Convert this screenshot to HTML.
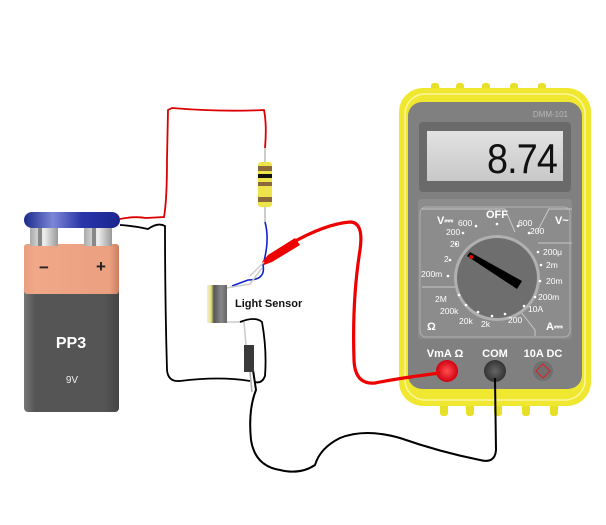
<!DOCTYPE html>
<html><head><meta charset="utf-8"><style>
html,body{margin:0;padding:0;background:#fff;width:606px;height:525px;overflow:hidden}
svg{display:block;font-family:"Liberation Sans",sans-serif}
</style></head><body>
<svg width="606" height="525" viewBox="0 0 606 525">
<defs>
<linearGradient id="cap" x1="0" x2="1"><stop offset="0" stop-color="#1a2a8a"/><stop offset="0.3" stop-color="#7d86d8"/><stop offset="0.6" stop-color="#2a36a8"/><stop offset="1" stop-color="#1a2590"/></linearGradient>
<linearGradient id="gb" x1="0" x2="1"><stop offset="0" stop-color="#777"/><stop offset="0.12" stop-color="#555"/><stop offset="0.85" stop-color="#555"/><stop offset="1" stop-color="#444"/></linearGradient>
<linearGradient id="ob" x1="0" x2="1"><stop offset="0" stop-color="#e8a080"/><stop offset="0.12" stop-color="#f0a888"/><stop offset="0.9" stop-color="#eba080"/><stop offset="1" stop-color="#c88060"/></linearGradient>
<linearGradient id="term" x1="0" x2="1"><stop offset="0" stop-color="#aaa"/><stop offset="0.5" stop-color="#eee"/><stop offset="1" stop-color="#999"/></linearGradient>
<linearGradient id="lcd" x1="0" x2="0" y1="0" y2="1"><stop offset="0" stop-color="#e2e2e2"/><stop offset="1" stop-color="#c8c8c8"/></linearGradient>
<radialGradient id="rt"><stop offset="0" stop-color="#ff5050"/><stop offset="1" stop-color="#d00010"/></radialGradient>
<radialGradient id="bt"><stop offset="0" stop-color="#666"/><stop offset="1" stop-color="#333"/></radialGradient>
<linearGradient id="sens" x1="0" x2="1"><stop offset="0" stop-color="#eee"/><stop offset="0.2" stop-color="#e8e070"/><stop offset="0.35" stop-color="#555"/><stop offset="0.7" stop-color="#888"/><stop offset="1" stop-color="#666"/></linearGradient>
</defs>

<!-- battery -->
<rect x="24" y="244" width="95" height="168" rx="4" fill="url(#gb)"/>
<rect x="24" y="244" width="95" height="50" rx="3" fill="url(#ob)"/>
<rect x="30" y="228" width="28" height="18" fill="url(#term)"/>
<rect x="84" y="228" width="28" height="18" fill="url(#term)"/>
<rect x="38" y="228" width="4" height="18" fill="#888"/><rect x="92" y="228" width="4" height="18" fill="#888"/>
<rect x="24" y="212" width="96" height="16" rx="8" fill="url(#cap)"/>
<text x="44" y="273" font-size="17" font-weight="bold" fill="#222" text-anchor="middle">−</text>
<text x="101" y="272" font-size="17" font-weight="bold" fill="#222" text-anchor="middle">+</text>
<text x="71" y="348" font-size="16" font-weight="bold" fill="#fff" text-anchor="middle">PP3</text>
<text x="72" y="383" font-size="10" fill="#eee" text-anchor="middle">9V</text>

<!-- circuit wires -->
<path d="M120,219 Q135,216 146,218 L164,217 Q167,200 167,160 L168,110 L172,108 Q220,112 264,110 Q267,125 265,148" stroke="#d00" stroke-width="1.8" fill="none"/>
<path d="M120,225 Q135,226 148,229 Q158,222 165,226 Q165,300 167,370 Q168,382 180,381 Q220,376 250,381" stroke="#000" stroke-width="1.8" fill="none"/>
<path d="M265,222 Q270,240 263,265 Q266,280 248,280 L232,286" stroke="#12c" stroke-width="1.6" fill="none"/>
<path d="M265,148 L265,222" stroke="#bbb" stroke-width="1.5"/>
<rect x="258" y="162" width="14" height="45" rx="3" fill="#ece44a"/>
<rect x="258" y="166" width="14" height="5" fill="#8a6a3a"/>
<rect x="258" y="174" width="14" height="4" fill="#111"/>
<rect x="258" y="182" width="14" height="4" fill="#8a6a3a"/>
<rect x="258" y="197" width="14" height="5" fill="#8a6a3a"/>
<!-- light sensor -->
<path d="M226,288 L250,284 L262,268 M226,322 L244,322 L246,345" stroke="#ccc" stroke-width="1.6" fill="none"/>
<path d="M240,322 Q255,316 262,322 Q267,350 265,376 Q262,384 255,382" stroke="#000" stroke-width="1.8" fill="none"/>
<rect x="207" y="285" width="20" height="38" fill="url(#sens)"/>
<text x="235" y="307" font-size="11" font-weight="bold" fill="#111">Light Sensor</text>

<!-- multimeter -->
<g fill="#e8e028">
<rect x="431" y="83" width="8" height="10" rx="3"/><rect x="456" y="83" width="8" height="10" rx="3"/><rect x="482" y="83" width="8" height="10" rx="3"/><rect x="510" y="83" width="8" height="10" rx="3"/><rect x="538" y="83" width="8" height="10" rx="3"/>
<rect x="440" y="400" width="8" height="16" rx="3"/><rect x="466" y="400" width="8" height="16" rx="3"/><rect x="494" y="400" width="8" height="16" rx="3"/><rect x="522" y="400" width="8" height="16" rx="3"/><rect x="550" y="400" width="8" height="16" rx="3"/>
</g>
<rect x="399" y="88" width="192" height="318" rx="24" fill="#f0e830"/>
<rect x="405" y="94" width="180" height="306" rx="20" fill="none" stroke="#fbf6a0" stroke-width="1.5"/>
<rect x="408" y="102" width="174" height="287" rx="14" fill="#808080"/>
<text x="568" y="117" font-size="8" fill="#b8b8b8" text-anchor="end">DMM-101</text>
<rect x="419" y="122" width="152" height="70" rx="4" fill="#6a6a6a"/>
<rect x="427" y="131" width="136" height="50" fill="url(#lcd)"/>
<text x="557" y="173" font-size="42" fill="#111" text-anchor="end" font-family="Liberation Sans,sans-serif" letter-spacing="-1" transform="translate(557,0) scale(0.9,1) translate(-557,0)">8.74</text>
<rect x="418" y="199" width="154" height="140" rx="4" fill="#8c8c8c"/>
<path d="M422,209 L505,209 M505,209 L515,232 M548,209 L572,209 L549,209 L537,232 M422,287 L455,287 M521,312 L535,330 L535,336 M572,243 L538,243" stroke="#c8c8c8" stroke-width="1" fill="none"/>
<rect x="420" y="207" width="150" height="130" rx="6" fill="none" stroke="#bbb" stroke-width="0.8"/>
<circle cx="497" cy="278" r="43" fill="#b0b0b0"/>
<circle cx="497" cy="278" r="40" fill="#6e6e6e"/>
<path d="M467,256 L470,252 L522,281 L517,289 Z" fill="#000"/>
<circle cx="471" cy="257" r="2" fill="#e00"/>
<g font-size="9" fill="#fff" font-weight="bold">
<text x="437" y="224" font-size="11">V⎓</text><text x="555" y="224" font-size="11">V~</text>
<text x="497" y="218" font-size="11" text-anchor="middle">OFF</text>
<text x="427" y="330" font-size="11">Ω</text><text x="546" y="330" font-size="11">A⎓</text>
</g>
<g font-size="8.5" fill="#fff">
<text x="458" y="226">600</text><text x="446" y="235">200</text><text x="450" y="247">20</text><text x="444" y="262">2</text><text x="421" y="277">200m</text>
<text x="435" y="302">2M</text><text x="440" y="314">200k</text><text x="459" y="324">20k</text><text x="481" y="327">2k</text><text x="508" y="323">200</text>
<text x="518" y="226">600</text><text x="530" y="234">200</text><text x="543" y="255">200μ</text><text x="546" y="268">2m</text><text x="546" y="284">20m</text><text x="538" y="300">200m</text><text x="528" y="312">10A</text>
</g>
<g fill="#fff">
<circle cx="497" cy="224" r="1.3"/><circle cx="476" cy="226" r="1.3"/><circle cx="463" cy="233" r="1.3"/><circle cx="456" cy="244" r="1.3"/><circle cx="450" cy="260" r="1.3"/><circle cx="448" cy="276" r="1.3"/>
<circle cx="459" cy="295" r="1.3"/><circle cx="466" cy="305" r="1.3"/><circle cx="478" cy="312" r="1.3"/><circle cx="492" cy="316" r="1.3"/><circle cx="505" cy="314" r="1.3"/>
<circle cx="518" cy="226" r="1.3"/><circle cx="529" cy="233" r="1.3"/><circle cx="538" cy="252" r="1.3"/><circle cx="541" cy="265" r="1.3"/><circle cx="540" cy="281" r="1.3"/><circle cx="535" cy="297" r="1.3"/><circle cx="524" cy="306" r="1.3"/>
</g>
<g font-size="11" fill="#fff" font-weight="bold" text-anchor="middle">
<text x="445" y="357">VmA Ω</text><text x="495" y="357">COM</text><text x="543" y="357">10A DC</text>
</g>
<circle cx="447" cy="371" r="11" fill="url(#rt)"/>
<circle cx="495" cy="371" r="11" fill="url(#bt)"/>
<circle cx="543" cy="371" r="10" fill="#707070"/>
<path d="M543,364 L550,371 L543,378 L536,371 Z" fill="none" stroke="#d22" stroke-width="1"/>

<!-- probe leads -->
<path d="M440,373 Q400,378 375,383 Q355,385 354,360 Q352,300 360,250 Q364,222 350,222 Q325,224 290,244" stroke="#e00" stroke-width="3.2" fill="none" stroke-linejoin="round"/>
<path d="M295,238 L268,255 L262,262 L264,265 L272,262 L300,245 Z" fill="#e00"/>
<path d="M264,262 L250,276" stroke="#ccc" stroke-width="1.5"/>
<path d="M495,378 L496,450 Q495,464 480,460 Q440,452 400,438 Q365,428 340,438 Q320,448 315,465 Q300,475 280,470 Q255,466 251,440 Q248,410 256,390 L253,370" stroke="#000" stroke-width="2" fill="none" stroke-linejoin="round"/>
<rect x="244" y="345" width="10" height="27" fill="#3a3a3a"/>
<path d="M250,372 L252,392" stroke="#aaa" stroke-width="1.5"/>
</svg>
</body></html>
